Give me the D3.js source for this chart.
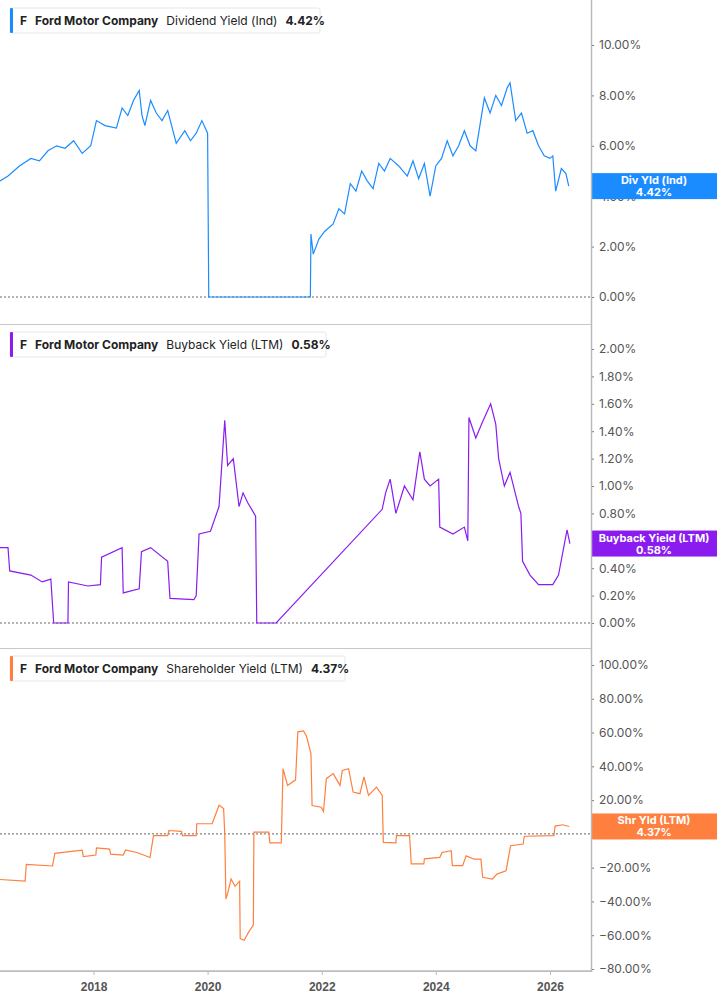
<!DOCTYPE html>
<html><head><meta charset="utf-8">
<script src="https://cdn.jsdelivr.net/npm/d3@7"></script>
<style>body{margin:0;background:#fff;font-family:Inter,"Noto Sans",sans-serif}</style>
</head><body><script>
// decimal years and values (%)
const divYears = [2016.36,2016.5,2016.7,2016.9,2017.05,2017.2,2017.35,2017.5,2017.65,2017.8,2017.95,2018.05,2018.2,2018.4,2018.5,2018.6,2018.7,2018.8,2018.85,2018.9,2019.0,2019.1,2019.2,2019.3,2019.45,2019.6,2019.7,2019.8,2019.9,2020.0,2020.02,2021.8,2021.81,2021.85,2021.95,2022.05,2022.2,2022.3,2022.4,2022.5,2022.6,2022.7,2022.8,2022.9,2023.0,2023.1,2023.2,2023.35,2023.5,2023.6,2023.7,2023.8,2023.9,2024.0,2024.1,2024.2,2024.3,2024.4,2024.5,2024.6,2024.7,2024.85,2024.95,2025.05,2025.15,2025.25,2025.3,2025.4,2025.5,2025.6,2025.7,2025.8,2025.9,2026.0,2026.05,2026.1,2026.2,2026.28,2026.33];
const divValues = [4.6,4.8,5.2,5.5,5.4,5.8,6.0,5.9,6.2,5.7,6.0,7.0,6.8,6.7,7.5,7.2,7.8,8.2,7.2,6.8,7.8,7.3,7.0,7.4,6.1,6.6,6.2,6.5,7.0,6.5,0,0,2.5,1.7,2.3,2.6,2.9,3.5,3.3,4.5,4.2,5.0,4.6,4.3,5.3,5.0,5.5,5.2,4.8,5.4,4.7,5.3,4.0,5.2,5.5,6.2,5.6,6.0,6.6,6.0,5.8,7.9,7.3,8.0,7.6,8.3,8.5,7.0,7.3,6.5,6.6,6.0,5.6,5.5,5.6,4.2,5.1,4.9,4.4];

const bbYears = [2016.36,2016.5,2016.53,2016.9,2017.1,2017.25,2017.3,2017.55,2017.56,2017.9,2018.12,2018.14,2018.5,2018.52,2018.8,2018.84,2019.0,2019.3,2019.34,2019.76,2019.8,2019.85,2020.05,2020.2,2020.3,2020.35,2020.45,2020.55,2020.62,2020.7,2020.84,2020.86,2021.2,2023.06,2023.12,2023.2,2023.3,2023.45,2023.6,2023.72,2023.8,2023.9,2024.05,2024.07,2024.3,2024.5,2024.56,2024.58,2024.7,2024.8,2024.96,2025.05,2025.1,2025.2,2025.3,2025.45,2025.49,2025.52,2025.65,2025.8,2026.05,2026.15,2026.3,2026.35];
const bbValues = [0.55,0.55,0.38,0.35,0.30,0.32,0,0,0.30,0.27,0.28,0.48,0.55,0.22,0.25,0.52,0.55,0.45,0.18,0.17,0.20,0.65,0.67,0.85,1.48,1.15,1.20,0.85,0.95,0.88,0.78,0,0,0.83,0.95,1.05,0.80,1.00,0.90,1.25,1.05,1.00,1.05,0.70,0.65,0.70,0.60,1.50,1.35,1.45,1.60,1.45,1.20,1.00,1.10,0.85,0.80,0.45,0.35,0.28,0.28,0.35,0.68,0.58];

const shrYears = [2016.36,2016.8,2016.82,2017.28,2017.32,2017.8,2017.82,2018.04,2018.05,2018.28,2018.3,2018.52,2018.56,2018.76,2018.99,2019.05,2019.3,2019.32,2019.54,2019.56,2019.8,2019.81,2020.08,2020.2,2020.28,2020.3,2020.32,2020.36,2020.41,2020.48,2020.56,2020.57,2020.64,2020.72,2020.8,2020.81,2021.07,2021.09,2021.29,2021.32,2021.4,2021.54,2021.58,2021.68,2021.73,2021.81,2021.83,2021.99,2022.03,2022.08,2022.2,2022.32,2022.36,2022.47,2022.55,2022.67,2022.74,2022.82,2022.96,2023.06,2023.08,2023.3,2023.31,2023.54,2023.57,2023.79,2023.8,2024.07,2024.11,2024.27,2024.29,2024.47,2024.53,2024.67,2024.79,2024.82,2024.99,2025.07,2025.23,2025.31,2025.53,2025.55,2026.07,2026.09,2026.22,2026.34];
const shrValues = [-27,-28,-18,-19,-11.5,-9.7,-13.5,-12.5,-8.3,-9,-12,-12.5,-9.5,-11,-14,-1,-1,2,1.5,-1,-1,6,6,17,15,0,-38.6,-34,-26.7,-31,-28,-62,-63,-58,-54,1,1,-5.3,-5.3,38.6,28.7,32,60.4,61,58,47.5,16.8,15.8,13.3,32.7,35.7,28.7,37.6,38.6,24.8,23.8,33.7,22.8,27.7,22.8,-5,-5.3,-1,-1,-17.8,-17.8,-14.8,-13.9,-11,-10,-18.8,-18.8,-13,-15,-15,-25.7,-26.7,-23.8,-21.8,-7,-6,-1.4,-1,4.6,5.4,4.4];

const yearTicks = [2018,2020,2022,2024,2026];

const W = 717, H = 1005, plotR = 591;
const toDate = y => { const yr = Math.floor(y); const s = new Date(yr,0,1), e = new Date(yr+1,0,1); return new Date(+s + (y-yr)*(e-s)); };

const svg = d3.select("body").append("svg").attr("width", W).attr("height", H);

const x = d3.scaleTime().domain([toDate(2016.36), toDate(2026.72)]).range([0, plotR]);

const panels = [
  {years: divYears, values: divValues, color: "#1a8cff", top: 0, bottom: 324,
   y: d3.scaleLinear().domain([0, 10]).range([297, 45]), ticks: [0,2,4,6,8,10],
   title: "Dividend Yield (Ind)", last: "4.42%", tag: "Div Yld (Ind)", legendW: 310},
  {years: bbYears, values: bbValues, color: "#8a1cf0", top: 324, bottom: 648,
   y: d3.scaleLinear().domain([0, 2]).range([623, 349]), ticks: [0,0.2,0.4,0.6,0.8,1,1.2,1.4,1.6,1.8,2],
   title: "Buyback Yield (LTM)", last: "0.58%", tag: "Buyback Yield (LTM)", legendW: 316},
  {years: shrYears, values: shrValues, color: "#ff7f3f", top: 648, bottom: 971,
   y: d3.scaleLinear().domain([-80, 100]).range([969, 665]), ticks: [-80,-60,-40,-20,0,20,40,60,80,100],
   title: "Shareholder Yield (LTM)", last: "4.37%", tag: "Shr Yld (LTM)", legendW: 335}
];

panels.forEach(p => {
  const g = svg.append("g");
  // zero line
  g.append("line").attr("x1", 0).attr("x2", plotR).attr("y1", p.y(0)).attr("y2", p.y(0))
    .attr("stroke", "#666").attr("stroke-dasharray", "2,2");
  // separator
  g.append("line").attr("x1", 0).attr("x2", plotR).attr("y1", p.bottom + 0.5).attr("y2", p.bottom + 0.5)
    .attr("stroke", "#c8c8c8");
  // series
  const pts = p.years.map((d, i) => [toDate(d), p.values[i]]);
  g.append("path").datum(pts).attr("fill", "none").attr("stroke", p.color).attr("stroke-width", 1.2)
    .attr("d", d3.line().x(d => x(d[0])).y(d => p.y(d[1])));
  // right axis
  const ax = g.append("g").attr("transform", `translate(${plotR},0)`)
    .call(d3.axisRight(p.y).tickValues(p.ticks).tickSize(3).tickPadding(5).tickFormat(d => d3.format(".2f")(d) + "%"));
  ax.select(".domain").remove();
  ax.selectAll("line").attr("stroke", "#777");
  ax.selectAll("text").attr("fill", "#555").attr("font-size", 12).attr("font-family", "Inter, sans-serif");
  // value tag
  const ty = p.y(p.values[p.values.length - 1]);
  g.append("rect").attr("x", plotR).attr("y", ty - 13).attr("width", W - plotR).attr("height", 26).attr("fill", p.color);
  g.append("text").attr("x", 654).attr("y", ty - 2).attr("text-anchor", "middle").attr("fill", "#fff")
    .attr("font-size", 11).attr("font-weight", 700).text(p.tag);
  g.append("text").attr("x", 654).attr("y", ty + 10).attr("text-anchor", "middle").attr("fill", "#fff")
    .attr("font-size", 11).attr("font-weight", 700).text(p.last);
  // legend
  const lg = g.append("g").attr("transform", `translate(10,${p.top + 8})`);
  lg.append("rect").attr("width", p.legendW).attr("height", 25).attr("rx", 2).attr("fill", "#fff").attr("stroke", "#e6e6e6");
  lg.append("rect").attr("width", 3).attr("height", 25).attr("rx", 1).attr("fill", p.color);
  const t = lg.append("text").attr("x", 10).attr("y", 17).attr("font-size", 12).attr("fill", "#222");
  t.append("tspan").attr("font-weight", 700).text("F");
  t.append("tspan").attr("dx", 8).attr("font-weight", 700).text("Ford Motor Company");
  t.append("tspan").attr("dx", 8).text(p.title);
  t.append("tspan").attr("dx", 8).attr("font-weight", 700).text(p.last);
});

// vertical axis line
svg.append("line").attr("x1", plotR + 0.5).attr("x2", plotR + 0.5).attr("y1", 0).attr("y2", 972).attr("stroke", "#bbb").attr("stroke-width", 1.5);

// bottom time axis
const bx = svg.append("g").attr("transform", "translate(0,971)")
  .call(d3.axisBottom(x).tickValues(yearTicks.map(y => new Date(y, 0, 1))).tickSize(4).tickFormat(d3.timeFormat("%Y")));
bx.select(".domain").attr("stroke", "#bbb").attr("stroke-width", 1.5).attr("d", `M0,0H${plotR}`);
bx.selectAll("line").attr("stroke", "#bbb");
bx.selectAll("text").attr("fill", "#555").attr("font-size", 12).attr("font-weight", 700).attr("dy", "1.1em");
</script></body></html>
